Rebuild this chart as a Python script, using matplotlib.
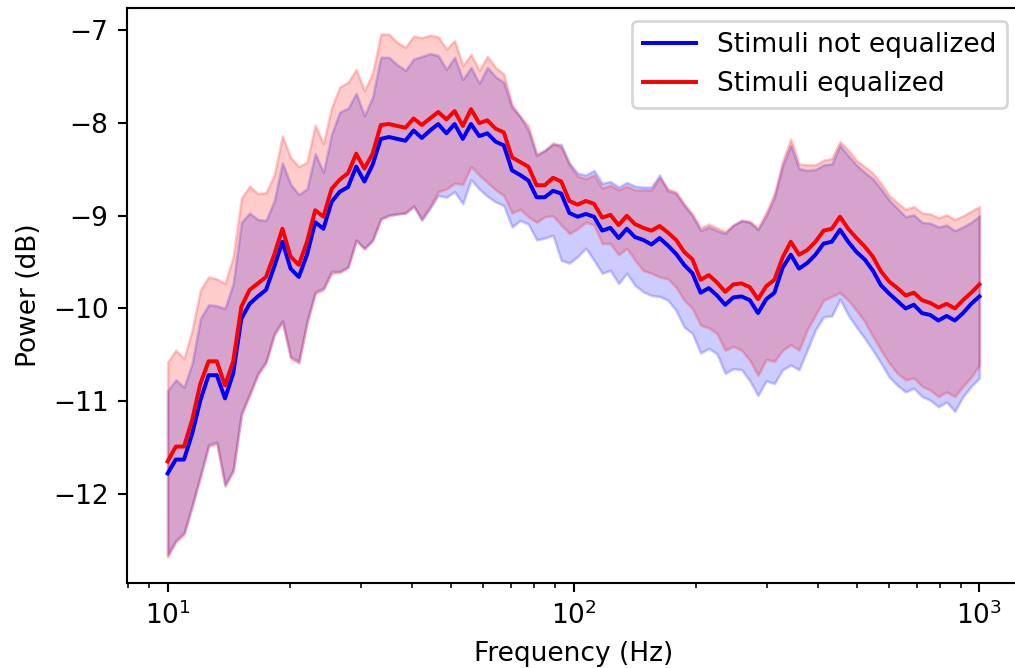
import numpy as np
import matplotlib
matplotlib.use("Agg")
import matplotlib.pyplot as plt

# frequency grid of the spectra (100 log-spaced bins, 10 Hz - 1 kHz)
freqs = np.logspace(1, 3, 100)

# mean power (dB) per bin
noteq_mean = [
    -11.78, -11.63, -11.63, -11.35, -10.99, -10.72, -10.72, -10.97, -10.70, -10.11,
    -9.95, -9.87, -9.80, -9.55, -9.28, -9.57, -9.66, -9.42, -9.07, -9.14,
    -8.85, -8.74, -8.69, -8.47, -8.63, -8.45, -8.17, -8.15, -8.17, -8.19,
    -8.08, -8.16, -8.08, -8.01, -8.11, -8.01, -8.17, -8.01, -8.14, -8.11,
    -8.20, -8.24, -8.51, -8.56, -8.62, -8.80, -8.80, -8.73, -8.76, -8.97,
    -9.01, -8.98, -9.01, -9.16, -9.13, -9.24, -9.14, -9.23, -9.26, -9.31,
    -9.24, -9.32, -9.41, -9.53, -9.62, -9.83, -9.78, -9.86, -9.96, -9.88,
    -9.87, -9.91, -10.05, -9.90, -9.83, -9.56, -9.42, -9.57, -9.51, -9.42,
    -9.30, -9.28, -9.15, -9.28, -9.39, -9.47, -9.59, -9.75, -9.84, -9.92,
    -10.00, -9.96, -10.05, -10.07, -10.13, -10.08, -10.13, -10.05, -9.95, -9.87,
]
eq_mean = [
    -11.65, -11.49, -11.49, -11.20, -10.81, -10.57, -10.57, -10.83, -10.57, -9.98,
    -9.80, -9.73, -9.66, -9.42, -9.14, -9.44, -9.53, -9.28, -8.94, -9.01,
    -8.71, -8.61, -8.54, -8.33, -8.49, -8.33, -8.02, -8.01, -8.03, -8.05,
    -7.95, -8.02, -7.95, -7.88, -7.96, -7.87, -8.03, -7.85, -8.00, -7.97,
    -8.06, -8.10, -8.37, -8.42, -8.47, -8.67, -8.67, -8.59, -8.63, -8.84,
    -8.88, -8.84, -8.87, -9.02, -8.99, -9.10, -9.00, -9.09, -9.13, -9.16,
    -9.11, -9.18, -9.26, -9.39, -9.47, -9.69, -9.64, -9.72, -9.82, -9.74,
    -9.73, -9.77, -9.90, -9.76, -9.69, -9.45, -9.28, -9.42, -9.37, -9.28,
    -9.16, -9.14, -9.01, -9.14, -9.24, -9.33, -9.44, -9.60, -9.71, -9.78,
    -9.86, -9.83, -9.91, -9.94, -9.99, -9.95, -10.00, -9.91, -9.83, -9.74,
]

# spread across stimuli: lower / upper edge of each band
noteq_low = [
    -12.66, -12.50, -12.42, -12.12, -11.80, -11.47, -11.44, -11.90, -11.74, -11.13,
    -10.92, -10.70, -10.57, -10.27, -10.13, -10.52, -10.57, -10.14, -9.82, -9.78,
    -9.60, -9.60, -9.55, -9.26, -9.35, -9.26, -9.03, -8.99, -8.98, -8.97,
    -8.90, -9.05, -8.92, -8.78, -8.80, -8.74, -8.87, -8.61, -8.71, -8.79,
    -8.85, -8.89, -9.12, -9.05, -9.09, -9.26, -9.24, -9.21, -9.48, -9.51,
    -9.44, -9.35, -9.48, -9.62, -9.59, -9.73, -9.62, -9.75, -9.82, -9.86,
    -9.87, -9.91, -10.02, -10.20, -10.27, -10.48, -10.43, -10.49, -10.70, -10.65,
    -10.66, -10.78, -10.94, -10.78, -10.81, -10.66, -10.61, -10.66, -10.45, -10.23,
    -10.09, -10.08, -9.90, -10.07, -10.20, -10.32, -10.45, -10.59, -10.74, -10.83,
    -10.90, -10.86, -10.95, -10.99, -11.06, -11.01, -11.11, -10.95, -10.84, -10.75,
]
noteq_high = [
    -10.89, -10.77, -10.85, -10.59, -10.11, -9.96, -9.97, -10.00, -9.73, -9.07,
    -8.97, -9.04, -9.05, -8.84, -8.43, -8.66, -8.77, -8.71, -8.33, -8.53,
    -8.12, -7.88, -7.84, -7.68, -7.92, -7.72, -7.29, -7.29, -7.37, -7.43,
    -7.31, -7.28, -7.25, -7.27, -7.42, -7.29, -7.53, -7.40, -7.57, -7.40,
    -7.50, -7.56, -7.83, -7.93, -8.08, -8.35, -8.29, -8.23, -8.23, -8.43,
    -8.54, -8.56, -8.51, -8.65, -8.63, -8.69, -8.64, -8.68, -8.69, -8.69,
    -8.56, -8.73, -8.76, -8.89, -9.00, -9.16, -9.12, -9.16, -9.19, -9.10,
    -9.05, -9.07, -9.15, -9.00, -8.80, -8.46, -8.24, -8.49, -8.51, -8.50,
    -8.45, -8.44, -8.24, -8.35, -8.45, -8.53, -8.60, -8.71, -8.83, -8.92,
    -9.01, -8.99, -9.07, -9.08, -9.12, -9.10, -9.16, -9.12, -9.07, -9.00,
]
eq_low = [
    -12.68, -12.52, -12.44, -12.14, -11.82, -11.49, -11.46, -11.92, -11.76, -11.15,
    -10.94, -10.72, -10.59, -10.29, -10.15, -10.54, -10.59, -10.16, -9.84, -9.80,
    -9.62, -9.61, -9.56, -9.27, -9.36, -9.27, -9.04, -9.00, -8.98, -8.97,
    -8.89, -9.03, -8.90, -8.74, -8.71, -8.65, -8.66, -8.47, -8.56, -8.64,
    -8.72, -8.78, -8.97, -8.93, -9.01, -9.07, -9.01, -9.00, -9.10, -9.19,
    -9.14, -9.07, -9.10, -9.30, -9.30, -9.42, -9.35, -9.48, -9.59, -9.62,
    -9.66, -9.68, -9.77, -9.91, -10.00, -10.18, -10.21, -10.27, -10.45, -10.41,
    -10.45, -10.56, -10.72, -10.55, -10.57, -10.45, -10.39, -10.45, -10.23, -10.07,
    -9.91, -9.87, -9.83, -9.91, -10.02, -10.14, -10.30, -10.45, -10.59, -10.70,
    -10.77, -10.75, -10.84, -10.88, -10.95, -10.90, -10.95, -10.84, -10.74, -10.61,
]
eq_high = [
    -10.58, -10.45, -10.54, -10.23, -9.80, -9.66, -9.68, -9.73, -9.44, -8.81,
    -8.68, -8.76, -8.75, -8.56, -8.14, -8.37, -8.47, -8.42, -8.02, -8.22,
    -7.83, -7.61, -7.56, -7.42, -7.65, -7.46, -7.04, -7.04, -7.13, -7.18,
    -7.06, -7.08, -7.05, -7.07, -7.20, -7.11, -7.38, -7.26, -7.43, -7.28,
    -7.40, -7.47, -7.80, -7.93, -8.03, -8.33, -8.30, -8.21, -8.26, -8.45,
    -8.57, -8.60, -8.56, -8.70, -8.67, -8.72, -8.68, -8.72, -8.72, -8.72,
    -8.59, -8.71, -8.74, -8.87, -8.98, -9.13, -9.09, -9.13, -9.17, -9.10,
    -9.05, -9.06, -9.13, -8.96, -8.76, -8.41, -8.17, -8.44, -8.45, -8.45,
    -8.40, -8.38, -8.20, -8.29, -8.40, -8.47, -8.54, -8.65, -8.78, -8.86,
    -8.93, -8.90, -8.97, -8.98, -9.02, -8.99, -9.04, -9.00, -8.95, -8.90,
]

fig = plt.figure(figsize=(1015 / 190, 668 / 190), dpi=190)
ax = fig.add_axes([127 / 1015, 85 / 668, 893 / 1015, 575 / 668])

ax.plot(freqs, noteq_mean, color="blue", lw=1.5, label="Stimuli not equalized")
ax.fill_between(freqs, noteq_low, noteq_high, color="blue", alpha=0.2)
ax.plot(freqs, eq_mean, color="red", lw=1.5, label="Stimuli equalized")
ax.fill_between(freqs, eq_low, eq_high, color="red", alpha=0.2)

ax.set_xscale("log")
ax.set_xlabel("Frequency (Hz)")
ax.set_ylabel("Power (dB)")
ax.legend(loc="upper right")

fig.savefig("out.png", dpi=190)
